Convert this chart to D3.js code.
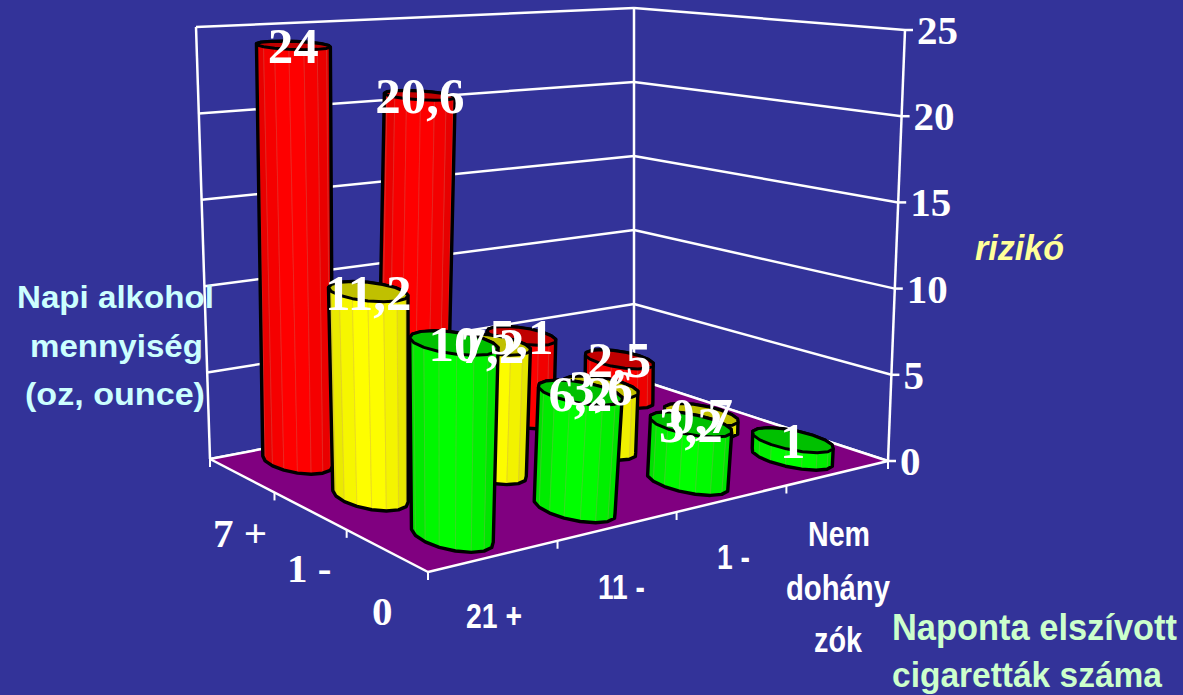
<!DOCTYPE html>
<html>
<head>
<meta charset="utf-8">
<script src="https://cdn.jsdelivr.net/npm/d3@7"></script>
<style>
html,body{margin:0;padding:0;background:#333399;overflow:hidden}
svg{display:block}
</style>
</head>
<body>
<svg id="chart" width="1183" height="695"></svg>
<script>
// Smoking / alcohol risk table, one series per daily alcohol band
const cigaretteLabels = ["21 +", "11 -", "1 -", "Nem dohányzók"];
const alcoholLabels = ["7 +", "1 -", "0"];
const riskHeavy = [24, 20.6, 5.1, 2.5];
const riskModerate = [11.2, 7.2, 3.6, 0.7];
const riskNone = [10, 6.2, 3.2, 1];
const riskTicks = [0, 5, 10, 15, 20, 25];
const seriesColors = ["#ff0000", "#ffff00", "#00ff00"];
const topColors = ["#c00000", "#c0c000", "#00c000"];

const W = 1183, H = 695;
const svg = d3.select("#chart");
svg.append("rect").attr("width", W).attr("height", H).attr("fill", "#333399");

// Maps the unit square onto a quadrilateral: (0,0), (1,0), (1,1), (0,1) in order
function squareToQuad(p00, p10, p11, p01) {
  const dx1 = p10[0] - p11[0], dx2 = p01[0] - p11[0], sx = p00[0] - p10[0] + p11[0] - p01[0];
  const dy1 = p10[1] - p11[1], dy2 = p01[1] - p11[1], sy = p00[1] - p10[1] + p11[1] - p01[1];
  const den = dx1 * dy2 - dx2 * dy1;
  const g = (sx * dy2 - dx2 * sy) / den, h = (dx1 * sy - sx * dy1) / den;
  const a = p10[0] - p00[0] + g * p10[0], b = p01[0] - p00[0] + h * p01[0], c = p00[0];
  const d = p10[1] - p00[1] + g * p10[1], e = p01[1] - p00[1] + h * p01[1], f = p00[1];
  return (u, v) => {
    const w = g * u + h * v + 1;
    return [(a * u + b * v + c) / w, (d * u + e * v + f) / w];
  };
}

// Floor and ceiling planes of the 3-D box, u runs along cigarettes, v along alcohol
const floorMap = squareToQuad([210, 459], [634, 378], [888, 461], [428, 572]);
const ceilMap = squareToQuad([196, 27], [634, 8], [905, 30], [421, 68]);
const zScale = d3.scaleLinear().domain([0, 25]).range([0, 1]);
const uScale = d3.scaleBand().domain(d3.range(cigaretteLabels.length)).range([0, 1]);
const vScale = d3.scaleBand().domain(d3.range(alcoholLabels.length)).range([-0.03, 1.01]);

function project(u, v, z) {
  const f = floorMap(u, v), c = ceilMap(u, v), t = zScale(z);
  return [f[0] + (c[0] - f[0]) * t, f[1] + (c[1] - f[1]) * t];
}
const line = d3.line();
const WHITE = "#ffffff";
const seg = (g, a, b, w = 2.5) => g.append("path").attr("d", line([a, b]))
  .attr("stroke", WHITE).attr("stroke-width", w).attr("fill", "none");

// Walls and gridlines
const walls = svg.append("g");
riskTicks.forEach(z => {
  seg(walls, project(0, 0, z), project(1, 0, z));
  seg(walls, project(1, 0, z), project(1, 1, z));
  const r = project(1, 1, z);
  seg(walls, r, [r[0] + 8, r[1]]);
});
[[0, 0], [1, 0], [1, 1]].forEach(([u, v]) => seg(walls, project(u, v, 0), project(u, v, 25)));

// Floor, its front edges and the division ticks
const floorG = svg.append("g");
floorG.append("path")
  .attr("d", line([project(0, 0, 0), project(1, 0, 0), project(1, 1, 0), project(0, 1, 0)]) + "Z")
  .attr("fill", "#800080");
[[[0, 0], [1, 0]], [[1, 0], [1, 1]], [[1, 1], [0, 1]], [[0, 1], [0, 0]]].forEach(([a, b]) =>
  seg(floorG, project(a[0], a[1], 0), project(b[0], b[1], 0)));
d3.range(0, 4).forEach(i => {
  const p = project(0, i / 3, 0);
  seg(floorG, p, [p[0], p[1] + 8], 2);
});
d3.range(1, 5).forEach(i => {
  const p = project(i / 4, 1, 0);
  seg(floorG, p, [p[0], p[1] + 8], 2);
});

// Faceted cylinders, farthest first; the footprint is stretched along the alcohol axis
const SIDES = 16;
const RU = 0.052, RV = 0.125;
const allSeries = [riskHeavy, riskModerate, riskNone];
const bars = [];
allSeries.forEach((vals, j) => vals.forEach((val, i) => bars.push({ i, j, val })));
bars.sort((a, b) => (b.i - b.j * 1.3) - (a.i - a.j * 1.3));

const barsG = svg.append("g");
const labelData = [];
const facetEdge = d3.interpolateRgb("#ffffff", "#a05a40");
bars.forEach(bar => {
  const cu = uScale(bar.i) + uScale.bandwidth() / 2;
  const cv = vScale(bar.j) + vScale.bandwidth() / 2;
  const ring = d3.range(SIDES).map(k => {
    const a = k / SIDES * 2 * Math.PI;
    return [cu + RU * Math.cos(a), cv + RV * Math.sin(a)];
  });
  const base = ring.map(p => project(p[0], p[1], 0));
  const top = ring.map(p => project(p[0], p[1], bar.val));
  const g = barsG.append("g");
  const hull = d3.polygonHull(base.concat(top));
  const xs = d3.extent(base, p => p[0]);
  const mid = (xs[0] + xs[1]) / 2, half = (xs[1] - xs[0]) / 2;
  g.append("path").attr("d", line(hull) + "Z").attr("fill", seriesColors[bar.j]);
  const facets = d3.range(SIDES).map(k => ({ k, y: (base[k][1] + base[(k + 1) % SIDES][1]) / 2 }))
    .sort((a, b) => a.y - b.y);
  const shade = d3.scaleLinear().domain([0, 1]).range([1, 0.87]);
  facets.forEach(({ k }) => {
    const n = (k + 1) % SIDES;
    const t = Math.abs((base[k][0] + base[n][0]) / 2 - mid) / half;
    const c = d3.rgb(seriesColors[bar.j]);
    const s = shade(t * t);
    const col = d3.rgb(c.r * s, c.g * s, c.b * s);
    g.append("path").attr("d", line([base[k], base[n], top[n], top[k]]) + "Z")
      .attr("fill", col).attr("stroke", d3.interpolateRgb(col, facetEdge(0.7))(0.35)).attr("stroke-width", 0.7);
  });
  g.append("path").attr("d", line(hull) + "Z").attr("fill", "none")
    .attr("stroke", "#000").attr("stroke-width", 3.4).attr("stroke-linejoin", "round");
  g.append("path").attr("d", line(top) + "Z").attr("fill", topColors[bar.j])
    .attr("stroke", "#000").attr("stroke-width", 3).attr("stroke-linejoin", "round");
  labelData.push({ val: bar.val, at: d3.polygonCentroid(top) });
});

// Value labels sit on top of every cylinder
const fmt = v => String(v).replace(".", ",");
const SERIF = "'Liberation Serif', serif", SANS = "'Liberation Sans', sans-serif";
const labels = svg.append("g");
labelData.forEach(d => {
  labels.append("text").attr("x", d.at[0]).attr("y", d.at[1] + 18)
    .attr("text-anchor", "middle").attr("font-family", SERIF).attr("font-weight", 700)
    .attr("font-size", 51).attr("fill", WHITE).text(fmt(d.val));
});

// Text helper: squeezes a string horizontally to a given width
function fitted(x, y, str, opts) {
  const t = svg.append("text")
    .attr("font-family", opts.family).attr("font-weight", 700)
    .attr("font-style", opts.italic ? "italic" : "normal")
    .attr("font-size", opts.size).attr("fill", opts.color || WHITE).text(str);
  const sx = opts.width ? opts.width / t.node().getComputedTextLength() : 1;
  t.attr("transform", `translate(${x},${y}) scale(${sx},1)`);
  return t;
}

// Risk axis numbers follow the right-hand corner of the box
riskTicks.forEach(z => {
  const r = project(1, 1, z);
  fitted(r[0] + 12, r[1] + 14, String(z), { family: SERIF, size: 41 });
});

// Alcohol axis labels
[[213, 547], [287, 582], [372, 625]].forEach(([x, y], i) =>
  fitted(x, y, alcoholLabels[i], { family: SERIF, size: 41 }));

// Cigarette axis labels
const narrow = { family: SANS, size: 35 };
fitted(466, 628, cigaretteLabels[0], { ...narrow, width: 56 });
fitted(598, 599, cigaretteLabels[1], { ...narrow, width: 47 });
fitted(717, 569, cigaretteLabels[2], { ...narrow, width: 33 });
fitted(808, 546, "Nem", { ...narrow, width: 62 });
fitted(786, 600, "dohány", { ...narrow, width: 104 });
fitted(814, 652, "zók", { ...narrow, width: 48 });

// Axis titles
const cyan = { family: SANS, size: 32, color: "#ccffff" };
fitted(17, 308, "Napi alkohol", { ...cyan, width: 197 });
fitted(30, 357, "mennyiség", { ...cyan, width: 173 });
fitted(25, 405, "(oz, ounce)", { ...cyan, width: 180 });
fitted(975, 260, "rizikó", { family: SANS, size: 35, italic: true, color: "#ffff99", width: 89 });
const pale = { family: SANS, size: 36, color: "#ccffcc" };
fitted(892, 640, "Naponta elszívott", { ...pale, width: 285 });
fitted(892, 687, "cigaretták száma", { ...pale, width: 270 });
</script>
</body>
</html>
